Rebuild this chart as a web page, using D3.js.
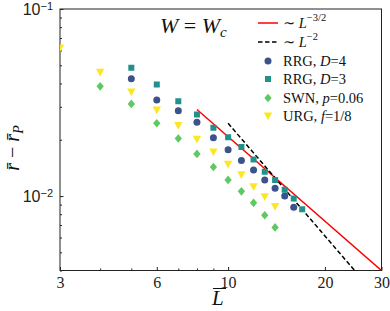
<!DOCTYPE html>
<html>
<head>
<meta charset="utf-8">
<script src="https://cdn.jsdelivr.net/npm/d3@7"></script>
<style>
  body { margin: 0; background: #fff; }
  svg { display: block; font-family: 'Liberation Serif', 'DejaVu Serif', serif; }
</style>
</head>
<body>
<div id="chart"></div>
<script>
// values
const lUrg = [3, 4, 5, 6, 7, 8, 9, 10, 11, 12, 13, 14];
const urg = [0.0619, 0.0459, 0.0360, 0.0288, 0.0238, 0.0201, 0.0172, 0.0148, 0.0130, 0.0112, 0.0099, 0.0088];

const lSwn = [4, 5, 6, 7, 8, 9, 10, 11, 12, 13, 14];
const swn = [0.0386, 0.0311, 0.0245, 0.0203, 0.0168, 0.0143, 0.0122, 0.0106, 0.0092, 0.0079, 0.0068];

const lD4 = [5, 6, 7, 8, 9, 10, 11, 12, 13, 14, 15, 16];
const rrgD4 = [0.0424, 0.0326, 0.0286, 0.0248, 0.0205, 0.0177, 0.0155, 0.0138, 0.0122, 0.0110, 0.0100, 0.0087];

const lD3 = [5, 6, 7, 8, 9, 10, 11, 12, 13, 14, 15, 16, 17];
const rrgD3 = [0.0485, 0.0395, 0.0321, 0.0273, 0.0232, 0.0206, 0.0183, 0.0157, 0.0135, 0.0122, 0.0108, 0.0097, 0.0085];

// guide lines: amplitude * L^exponent over [from, to]
const guides = [
  { name: 'p32', amp: 0.657, exp: -1.5, from: 8, to: 30 },
  { name: 'p2', amp: 2.45, exp: -2, from: 10, to: 30 }
];

const xTicks = [3, 4, 5, 6, 7, 8, 9, 10, 20, 30];
const xLabels = [3, 6, 10, 20, 30];
const yMajor = [0.01, 0.1];
const yMinor = [0.004, 0.005, 0.006, 0.007, 0.008, 0.009, 0.02, 0.03, 0.04, 0.05, 0.06, 0.07, 0.08, 0.09];

const width = 390;
const height = 311;
const margin = { top: 9, right: 8.5, bottom: 40.5, left: 60 };

const colors = {
  d4: '#3b528b',
  d3: '#21918c',
  swn: '#5ec962',
  urg: '#fde725'
};

const svg = d3.select('#chart').append('svg')
  .attr('width', width)
  .attr('height', height);

const x = d3.scaleLog()
  .domain([3, 30])
  .range([margin.left, width - margin.right]);

const y = d3.scaleLog()
  .domain([0.004, 0.1])
  .range([height - margin.bottom, margin.top]);

svg.append('clipPath').attr('id', 'plot-clip')
  .append('rect')
    .attr('x', margin.left)
    .attr('y', margin.top)
    .attr('width', width - margin.left - margin.right)
    .attr('height', height - margin.top - margin.bottom);

// axes, ticks pointing inward
const xAxis = svg.append('g')
  .attr('transform', `translate(0,${height - margin.bottom})`)
  .call(d3.axisBottom(x).tickValues(xTicks).tickSize(-3.5).tickPadding(6)
    .tickFormat(d => (xLabels.includes(d) ? d : '')));

xAxis.selectAll('.tick line').attr('y2', d => (xLabels.includes(d) ? -3.5 : -2));
xAxis.selectAll('text').attr('font-size', 16).attr('fill', '#222')
  .attr('font-family', "'Liberation Serif', serif");

const yAxis = svg.append('g')
  .attr('transform', `translate(${margin.left},0)`)
  .call(d3.axisLeft(y).tickValues(yMajor.concat(yMinor)).tickSize(-3.5).tickPadding(7)
    .tickFormat(() => ''));

yAxis.selectAll('.tick line').attr('x2', d => (yMajor.includes(d) ? 3.5 : 2));

yAxis.selectAll('.tick')
  .filter(d => yMajor.includes(d))
  .select('text')
    .attr('font-size', 16)
    .attr('fill', '#222')
    .attr('dy', '0.35em')
    .each(function (d) {
      const t = d3.select(this);
      t.append('tspan').text('10');
      t.append('tspan').attr('dy', '-0.45em').attr('font-size', 11)
        .text('\u2212' + Math.round(-Math.log10(d)));
    });

svg.selectAll('.domain').remove();
svg.selectAll('.tick line').attr('stroke', '#222');

// frame
svg.append('rect')
  .attr('x', margin.left)
  .attr('y', margin.top)
  .attr('width', width - margin.left - margin.right)
  .attr('height', height - margin.top - margin.bottom)
  .attr('fill', 'none')
  .attr('stroke', '#222')
  .attr('stroke-width', 1);

// guide lines
const plot = svg.append('g').attr('clip-path', 'url(#plot-clip)');

const guideLine = d3.line()
  .x(d => x(d[0]))
  .y(d => y(d[1]));

guides.forEach(g => {
  plot.append('path')
    .datum([g.from, g.to].map(l => [l, g.amp * Math.pow(l, g.exp)]))
    .attr('d', guideLine)
    .attr('fill', 'none')
    .attr('stroke', g.name === 'p32' ? '#ff0000' : '#000')
    .attr('stroke-width', 1.5)
    .attr('stroke-dasharray', g.name === 'p32' ? null : '4.5,2.5');
});

// marker shapes
const shapes = {
  circle: r => d3.symbol(d3.symbolCircle, Math.PI * r * r)(),
  square: r => `M${-r},${-r}H${r}V${r}H${-r}Z`,
  diamond: r => `M0,${-r}L${r * 0.85},0L0,${r}L${-r * 0.85},0Z`,
  triangle: r => `M0,${r}L${-r},${-r * 0.85}L${r},${-r * 0.85}Z`
};

const series = [
  { ls: lD4, vs: rrgD4, color: colors.d4, shape: 'circle', r: 3.5 },
  { ls: lD3, vs: rrgD3, color: colors.d3, shape: 'square', r: 3 },
  { ls: lSwn, vs: swn, color: colors.swn, shape: 'diamond', r: 4.3 },
  { ls: lUrg, vs: urg, color: colors.urg, shape: 'triangle', r: 4.2 }
];

series.forEach(s => {
  plot.append('g')
    .selectAll('path')
    .data(s.ls.map((l, i) => [l, s.vs[i]]))
    .join('path')
      .attr('d', shapes[s.shape](s.r))
      .attr('fill', s.color)
      .attr('transform', d => `translate(${x(d[0])},${y(d[1])})`);
});

// title
const title = svg.append('text')
  .attr('x', 160)
  .attr('y', 33)
  .attr('font-size', 22)
  .attr('fill', '#111');
title.append('tspan').attr('font-style', 'italic').text('W');
title.append('tspan').text(' = ');
title.append('tspan').attr('font-style', 'italic').text('W');
title.append('tspan').attr('font-style', 'italic').attr('font-size', 15).attr('dy', 4).text('c');

// legend
const legend = svg.append('g').attr('font-size', 14.5).attr('fill', '#111');

const lineItems = [
  { y: 23, color: '#ff0000', dash: null, sup: '\u22123/2' },
  { y: 42, color: '#000', dash: '4.5,2.5', sup: '\u22122' }
];

lineItems.forEach(it => {
  legend.append('line')
    .attr('x1', 258).attr('x2', 278)
    .attr('y1', it.y).attr('y2', it.y)
    .attr('stroke', it.color)
    .attr('stroke-width', 1.5)
    .attr('stroke-dasharray', it.dash);
  const t = legend.append('text').attr('x', 283).attr('y', it.y + 5);
  t.append('tspan').text('\u223C ');
  t.append('tspan').attr('font-style', 'italic').text('L');
  t.append('tspan').attr('font-size', 10.5).attr('dy', -7).text(it.sup);
});

const markerItems = [
  { y: 61, s: series[0], pre: 'RRG, ', v: 'D', post: '=4' },
  { y: 79, s: series[1], pre: 'RRG, ', v: 'D', post: '=3' },
  { y: 98, s: series[2], pre: 'SWN, ', v: 'p', post: '=0.06' },
  { y: 116, s: series[3], pre: 'URG, ', v: 'f', post: '=1/8' }
];

markerItems.forEach(it => {
  legend.append('path')
    .attr('d', shapes[it.s.shape](it.s.r))
    .attr('fill', it.s.color)
    .attr('transform', `translate(268,${it.y})`);
  const t = legend.append('text').attr('x', 283).attr('y', it.y + 5);
  t.append('tspan').text(it.pre);
  t.append('tspan').attr('font-style', 'italic').text(it.v);
  t.append('tspan').text(it.post);
});

// axis titles
svg.append('text')
  .attr('x', 212)
  .attr('y', 305)
  .attr('font-size', 21)
  .attr('font-style', 'italic')
  .attr('fill', '#111')
  .text('L');
svg.append('line')
  .attr('x1', 213).attr('x2', 226)
  .attr('y1', 288.5).attr('y2', 288.5)
  .attr('stroke', '#111')
  .attr('stroke-width', 1);

const yTitle = svg.append('text')
  .attr('transform', 'translate(19,148) rotate(-90)')
  .attr('text-anchor', 'middle')
  .attr('font-size', 20)
  .attr('fill', '#111');
yTitle.append('tspan').attr('font-style', 'italic').text('r\u0304');
yTitle.append('tspan').text(' \u2212 ');
yTitle.append('tspan').attr('font-style', 'italic').text('r\u0304');
yTitle.append('tspan').attr('font-style', 'italic').attr('font-size', 14).attr('dy', 4).text('P');
</script>
</body>
</html>
